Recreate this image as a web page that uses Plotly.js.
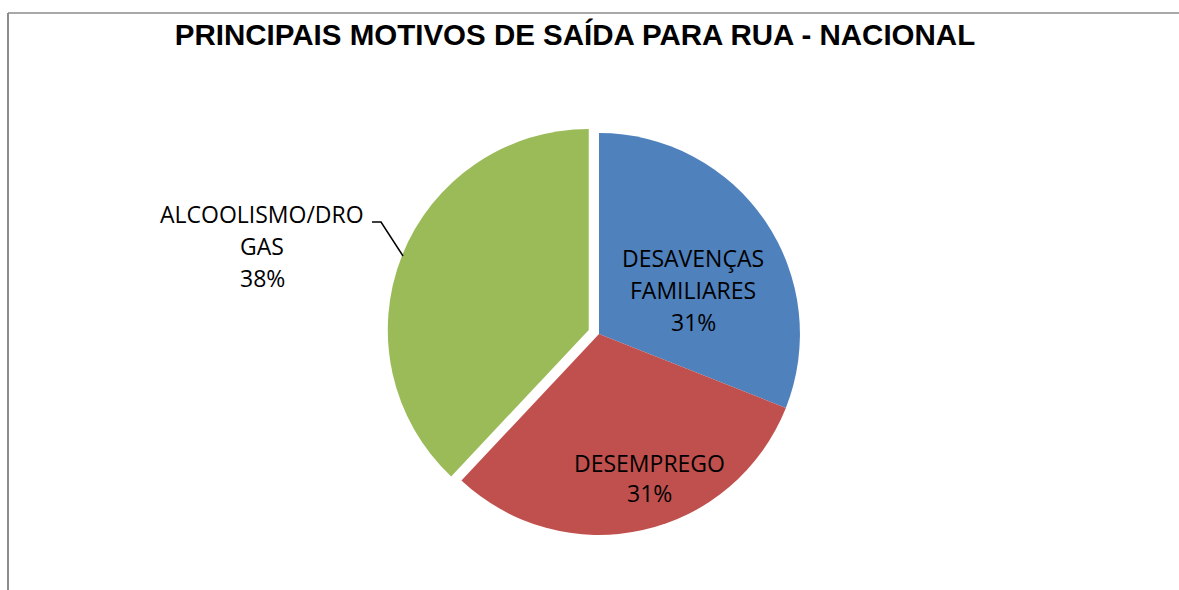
<!DOCTYPE html>
<html>
<head>
<meta charset="utf-8">
<script src="https://cdn.plot.ly/plotly-3.0.1.min.js"></script>
<style>
  html, body { margin: 0; padding: 0; background: #ffffff; }
  #chart { width: 1179px; height: 590px; }
</style>
</head>
<body>
<div id="chart"></div>
<script>
// ---- data ----
const categories = ['DESAVENÇAS FAMILIARES', 'DESEMPREGO', 'ALCOOLISMO/DROGAS'];
const labelLines = [['DESAVENÇAS', 'FAMILIARES'], ['DESEMPREGO'], ['ALCOOLISMO/DRO', 'GAS']];
const values = [31, 31, 38];
const colors = ['#4F81BD', '#C0504D', '#9BBB59'];
const pulls = [0, 0, 0.055];
const chartTitle = 'PRINCIPAIS MOTIVOS DE SAÍDA PARA RUA - NACIONAL';

// ---- helpers ----
const W = 1179, H = 590;
const px = x => x / W;
const py = y => 1 - y / H;
const total = values.reduce((a, b) => a + b, 0);
const pct = values.map(v => Math.round(v / total * 100) + '%');
const labelFont = { family: '"Open Sans", sans-serif', size: 23, color: '#000000' };

// label placement: centre x and first-line centre y (pixels), line spacing
const labelPos = [[693, 258], [649, 463], [262, 214]];
const lineGap = [32, 30, 32];

const annotations = [];
categories.forEach((c, i) => {
  const lines = labelLines[i].concat([pct[i]]);
  lines.forEach((t, k) => {
    annotations.push({
      xref: 'paper', yref: 'paper',
      x: px(labelPos[i][0]), y: py(labelPos[i][1] + k * lineGap[i]),
      xanchor: 'center', yanchor: 'middle',
      text: t, showarrow: false, font: labelFont
    });
  });
});

const trace = {
  type: 'pie',
  labels: categories,
  values: values,
  sort: false,
  direction: 'clockwise',
  rotation: 0,
  pull: pulls,
  marker: { colors: colors, line: { color: '#ffffff', width: 0 } },
  textinfo: 'none',
  hoverinfo: 'label+percent',
  showlegend: false,
  domain: { x: [px(387), px(811)], y: [py(546), py(122)] }
};

const layout = {
  width: W, height: H,
  margin: { l: 0, r: 0, t: 0, b: 0 },
  paper_bgcolor: '#ffffff',
  showlegend: false,
  title: {
    text: '<b>' + chartTitle + '</b>',
    font: { family: 'Liberation Sans, Arial, sans-serif', size: 29.5, color: '#000000' },
    x: px(575), xanchor: 'center',
    y: py(35), yanchor: 'middle',
    xref: 'paper', yref: 'paper'
  },
  annotations: annotations,
  shapes: [
    { type: 'line', xref: 'paper', yref: 'paper', x0: px(8), x1: px(8), y0: py(13), y1: py(600),
      line: { color: '#8c8c8c', width: 2 } },
    { type: 'line', xref: 'paper', yref: 'paper', x0: px(8), x1: px(1190), y0: py(13), y1: py(13),
      line: { color: '#8c8c8c', width: 1.5 } },
    { type: 'path', xref: 'paper', yref: 'paper',
      path: 'M ' + px(372) + ',' + py(222) + ' L ' + px(381) + ',' + py(222) + ' L ' + px(403) + ',' + py(256),
      line: { color: '#000000', width: 1.5 } }
  ]
};

Plotly.newPlot('chart', [trace], layout, { displayModeBar: false, staticPlot: true });
</script>
</body>
</html>
